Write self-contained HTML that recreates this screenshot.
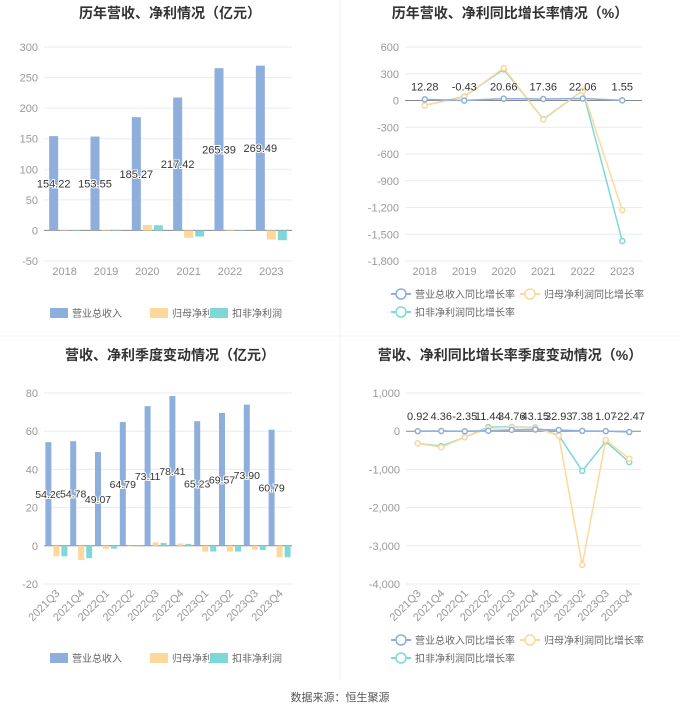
<!DOCTYPE html>
<html><head><meta charset="utf-8"><style>
body{margin:0;background:#fff;font-family:"Liberation Sans","Noto Sans CJK SC",sans-serif}
svg text{font-family:"Liberation Sans","Noto Sans CJK SC",sans-serif}
</style></head><body>
<svg id="s" width="680" height="712" xmlns="http://www.w3.org/2000/svg">
<line x1="340" y1="0" x2="340" y2="680" stroke="#f0f0f0"/>
<line x1="0" y1="336" x2="680" y2="336" stroke="#f4f4f4"/>
<text x="170" y="18" text-anchor="middle" font-size="14" font-weight="bold" fill="#333">历年营收、净利情况（亿元）</text>
<text x="510" y="18" text-anchor="middle" font-size="14" font-weight="bold" fill="#333">历年营收、净利同比增长率情况（%）</text>
<text x="170" y="360" text-anchor="middle" font-size="14" font-weight="bold" fill="#333">营收、净利季度变动情况（亿元）</text>
<text x="510" y="360" text-anchor="middle" font-size="14" font-weight="bold" fill="#333">营收、净利同比增长率季度变动情况（%）</text>
<text x="340" y="701" text-anchor="middle" font-size="11" fill="#555">数据来源：恒生聚源</text>
</svg>
<script>
const years=["2018","2019","2020","2021","2022","2023"];
const revA=[154.22,153.55,185.27,217.42,265.39,269.49];
const netA=[0.5,1,9,-12,-1,-15];
const dedA=[0.8,1,8.5,-10,-1,-16];
const ticksA=[300,250,200,150,100,50,0,-50];
const revGA=[12.28,-0.43,20.66,17.36,22.06,1.55];
const netGA=[-55,40,365,-215,110,-1230];
const dedGA=[-55,45,350,-210,110,-1575];
const ticksB=[600,300,0,-300,-600,-900,-1200,-1500,-1800];
const quarters=["2021Q3","2021Q4","2022Q1","2022Q2","2022Q3","2022Q4","2023Q1","2023Q2","2023Q3","2023Q4"];
const revQ=[54.26,54.78,49.07,64.79,73.11,78.41,65.23,69.57,73.90,60.79];
const netQ=[-5.5,-7.5,-1.5,-0.3,1.8,1.2,-3,-3,-2,-6];
const dedQ=[-5.5,-6.5,-1.5,0.3,1.5,1.0,-3,-3,-2.2,-6];
const ticksC=[80,60,40,20,0,-20];
const revGQ=[0.92,4.36,-2.35,11.44,34.76,43.15,32.93,7.38,1.07,-22.47];
const netGQ=[-320,-420,-160,80,100,90,-120,-3500,-230,-720];
const dedGQ=[-320,-390,-160,110,110,100,-110,-1040,-270,-810];
const ticksD=[1000,0,-1000,-2000,-3000,-4000];

const S=document.getElementById('s');const NS="http://www.w3.org/2000/svg";
function el(t,a,txt){const e=document.createElementNS(NS,t);for(const k in a)e.setAttribute(k,a[k]);if(txt!==undefined)e.textContent=txt;S.appendChild(e);return e;}
const BLUE="#8eaedc",YEL="#fdd89a",CYAN="#7fd8d8";
const fmt=v=>v.toLocaleString('en-US');
function axes(p,ticks,cats,rot,prefix){
  const y=v=>p.y0-(v-p.min)/(p.max-p.min)*(p.y0-p.y1);
  ticks.forEach(t=>{
    const g=el('line',{x1:p.x0,x2:p.x1,y1:y(t),y2:y(t),stroke:t===0?"#888":"#e8ebf5"});
    
    const l=el('text',{x:p.x0-6,y:y(t)+4,'text-anchor':'end','font-size':11,fill:'#999'},fmt(t));
    
  });
  const step=(p.x1-p.x0)/cats.length;const x=i=>p.x0+step*(i+0.5);
  cats.forEach((c,i)=>{
    let l;
    if(rot){l=el('text',{x:x(i)+4,y:y(p.min)+10,'text-anchor':'end','font-size':11,fill:'#999',transform:`rotate(-45 ${x(i)+4} ${y(p.min)+10})`},c);}
    else l=el('text',{x:x(i),y:y(p.min)+14,'text-anchor':'middle','font-size':11,fill:'#999'},c);
    
  });
  return {y,x,step};
}
function bars(p,cats,rev,net,ded,rot,prefix,bw,labelSize){
  const a=axes(p,p.ticks,cats,rot,prefix);
  [[rev,BLUE,'revenue'],[net,YEL,'net-profit'],[ded,CYAN,'deducted-profit']].forEach((s,k)=>{
    s[0].forEach((v,i)=>{
      const xx=a.x(i)+(k-1)*(bw+2)-bw/2;const y0=a.y(0),yv=a.y(v);
      const r=el('rect',{x:xx,y:Math.min(y0,yv),width:bw,height:Math.abs(y0-yv),fill:s[1]});
      
    });
  });
  rev.forEach((v,i)=>{
    const t=el('text',{x:a.x(i)-(bw+2),y:a.y(v/2)+4,'text-anchor':'middle','font-size':labelSize,fill:'#333',stroke:'#fff','stroke-width':2,'paint-order':'stroke'},v.toFixed(2));
    
  });
}
function lines(p,cats,rev,net,ded,rot,prefix){
  const a=axes(p,p.ticks,cats,rot,prefix);
  [[ded,CYAN,'deducted-growth'],[net,YEL,'net-growth'],[rev,BLUE,'revenue-growth']].forEach(s=>{
    const pts=s[0].map((v,i)=>a.x(i)+','+a.y(v)).join(' ');
    const pl=el('polyline',{points:pts,fill:'none',stroke:s[1],'stroke-width':1.5});
    
    s[0].forEach((v,i)=>{const c=el('circle',{cx:a.x(i),cy:a.y(v),r:2.5,fill:'#fff',stroke:s[1],'stroke-width':1.5});
      });
  });
  rev.forEach((v,i)=>{const t=el('text',{x:a.x(i),y:a.y(0)-(prefix==='c4'?11:10),'text-anchor':'middle','font-size':11,fill:'#333'},v.toFixed(2));
    });
}
function legendItem(x,y,color,label,type,prefix){
  if(type==='bar'){const r=el('rect',{x:x,y:y-5,width:18,height:10,fill:color});
    const t=el('text',{x:x+22,y:y+4,'font-size':10,fill:'#666'},label);}
  else{const l=el('line',{x1:x,x2:x+20,y1:y,y2:y,stroke:color,'stroke-width':2});
    const c=el('circle',{cx:x+10,cy:y,r:5,fill:'#fff',stroke:color,'stroke-width':1.5});
    const t=el('text',{x:x+24,y:y+4,'font-size':10,fill:'#666'},label);}
}
bars({x0:44,x1:292,y0:261,y1:47,min:-50,max:300,ticks:ticksA},years,revA,netA,dedA,false,'c1',9,11);
lines({x0:405,x1:642,y0:261,y1:47,min:-1800,max:600,ticks:ticksB},years,revGA,netGA,dedGA,false,'c2');
bars({x0:44,x1:292,y0:584,y1:393,min:-20,max:80,ticks:ticksC},quarters,revQ,netQ,dedQ,true,'c3',6,10.5);
lines({x0:406,x1:641,y0:584,y1:393,min:-4000,max:1000,ticks:ticksD},quarters,revGQ,netGQ,dedGQ,true,'c4');
legendItem(50,313,BLUE,'营业总收入','bar','c1');legendItem(150,313,YEL,'归母净利润','bar','c1');legendItem(210,313,CYAN,'扣非净利润','bar','c1');
legendItem(50,658,BLUE,'营业总收入','bar','c3');legendItem(150,658,YEL,'归母净利润','bar','c3');legendItem(210,658,CYAN,'扣非净利润','bar','c3');
legendItem(391,294,BLUE,'营业总收入同比增长率','line','c2');legendItem(520,294,YEL,'归母净利润同比增长率','line','c2');legendItem(391,312,CYAN,'扣非净利润同比增长率','line','c2');
legendItem(391,640,BLUE,'营业总收入同比增长率','line','c4');legendItem(520,640,YEL,'归母净利润同比增长率','line','c4');legendItem(391,658,CYAN,'扣非净利润同比增长率','line','c4');
</script>
</body></html>
